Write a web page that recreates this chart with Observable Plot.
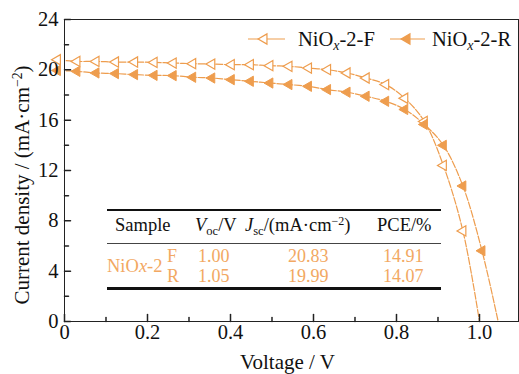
<!DOCTYPE html>
<html><head><meta charset="utf-8">
<script src="https://cdn.jsdelivr.net/npm/d3@7"></script>
<script src="https://cdn.jsdelivr.net/npm/@observablehq/plot@0.6"></script>
<style>
html,body{margin:0;padding:0;background:#fff;}
#wrap{position:relative;width:519px;height:374px;overflow:hidden;font-family:"Liberation Serif","Times New Roman",serif;color:#111;}
#wrap svg{position:absolute;left:0;top:0;}
.t{position:absolute;white-space:nowrap;line-height:0.85;transform:translateY(-50%);}
.o{color:#F2A862;}
.hl{position:absolute;background:#111;}
.sub{font-size:0.68em;vertical-align:-0.28em;line-height:0;}
.sup{font-size:0.65em;vertical-align:0.55em;line-height:0;}
i{font-style:italic;}
</style></head><body><div id="wrap"></div>
<script>
// ---- data ----
const voltage = [-0.017,0.030,0.076,0.123,0.169,0.216,0.262,0.309,0.355,0.402,0.448,0.495,0.541,0.588,0.634,0.681,0.727,0.774,0.820,0.867,0.913,0.960,1.006];
const jF = [20.80,20.67,20.67,20.62,20.62,20.59,20.54,20.49,20.46,20.41,20.41,20.33,20.28,20.14,20.01,19.75,19.35,18.83,17.74,15.90,12.40,7.20];
const jR = [19.95,19.88,19.75,19.70,19.62,19.56,19.54,19.41,19.35,19.22,19.09,18.95,18.83,18.69,18.43,18.22,17.90,17.50,16.85,15.66,14.00,10.77,5.62];
const vocEnd = [1.000, 1.045];
const seriesNames = ["F","R"];
const xTicks = [0,0.2,0.4,0.6,0.8,1.0];
const xMinor = [0.1,0.3,0.5,0.7,0.9];
const yTicks = [0,4,8,12,16,20,24];
const yMinor = [2,6,10,14,18,22];
const sampleName = "NiOx-2";
const scanDir = ["F","R"];
const vocCol = ["1.00","1.05"];
const jscCol = ["20.83","19.99"];
const pceCol = ["14.91","14.07"];

const orange = "#EE9D4E";
const axisColor = "#222";

const markF = jF.map((J,i)=>({V:voltage[i], J}));
const markR = jR.map((J,i)=>({V:voltage[i], J}));
const lineF = markF.concat([{V:vocEnd[0], J:0}]);
const lineR = markR.concat([{V:vocEnd[1], J:0}]);

const tickShape = {draw(ctx, l){ ctx.moveTo(0,0); ctx.lineTo(0,-l); }};

const chart = Plot.plot({
  width:519, height:374, marginTop:19, marginLeft:64, marginRight:1, marginBottom:53,
  style:{fontFamily:'"Liberation Serif","Times New Roman",serif', fontSize:"20.5px", color:"#111", background:"white"},
  x:{domain:[0,1.094]},
  y:{domain:[0,24]},
  marks:[
    Plot.line(lineF, {x:"V", y:"J", stroke:orange, strokeWidth:1.2, strokeDasharray:"7,1.8", curve:"catmull-rom", clip:true}),
    Plot.line(lineR, {x:"V", y:"J", stroke:orange, strokeWidth:1.2, strokeDasharray:"7,1.8", curve:"catmull-rom", clip:true}),
    Plot.dot(markF, {x:"V", y:"J", symbol:"triangle", r:3.8, rotate:-90, fill:"white", stroke:orange, strokeWidth:1.2}),
    Plot.dot(markR, {x:"V", y:"J", symbol:"triangle", r:3.8, rotate:-90, fill:orange, stroke:orange, strokeWidth:1}),
    Plot.frame({stroke:axisColor, strokeWidth:1}),
    Plot.axisX({ticks:xTicks, tickSize:0, tickPadding:3, tickFormat:d=>d===0?"0":d.toFixed(1), label:null}),
    Plot.axisY({ticks:yTicks, tickSize:0, tickPadding:6, label:null}),
    Plot.vector(xTicks, {x:d=>d, frameAnchor:"bottom", length:7, anchor:"start", shape:tickShape, stroke:axisColor}),
    Plot.vector(xMinor, {x:d=>d, frameAnchor:"bottom", length:4, anchor:"start", shape:tickShape, stroke:axisColor}),
    Plot.vector(yTicks, {y:d=>d, frameAnchor:"left", length:6, rotate:90, anchor:"start", shape:tickShape, stroke:axisColor}),
    Plot.vector(yMinor, {y:d=>d, frameAnchor:"left", length:4, rotate:90, anchor:"start", shape:tickShape, stroke:axisColor})
  ]
});
const wrap = document.getElementById("wrap");
wrap.appendChild(chart);

function txt(html, left, cy, size, cls){
  const d = document.createElement("div");
  d.className = "t" + (cls? " "+cls : "");
  d.style.left = left+"px"; d.style.top = cy+"px"; d.style.fontSize = size+"px";
  d.innerHTML = html; wrap.appendChild(d); return d;
}
function hline(x1, x2, y, h, color){
  const d = document.createElement("div");
  d.className = "hl";
  d.style.left = x1+"px"; d.style.width = (x2-x1)+"px"; d.style.top = (y - h/2)+"px"; d.style.height = h+"px";
  if (color) d.style.background = color;
  wrap.appendChild(d);
}
const niox = s => s.replace("Ox", "O<i class='sub'>x</i>");

// axis titles
txt("Voltage / V", 240, 363, 21);
const yt = txt("Current density / (mA·cm<span class='sup'>−2</span>)", 23, 185, 21);
yt.style.transform = "translate(-50%,-50%) rotate(-90deg)";

// legend
const leg = document.createElementNS("http://www.w3.org/2000/svg","svg");
leg.setAttribute("width","519"); leg.setAttribute("height","60");
leg.style.position="absolute"; leg.style.left="0"; leg.style.top="0";
const sw = [{x1:248,x2:285,mx:264,fill:"white"},{x1:390,x2:425,mx:407,fill:orange}];
sw.forEach(s=>{
  leg.innerHTML += `<line x1="${s.x1}" x2="${s.x2}" y1="39" y2="39" stroke="${orange}" stroke-width="1.2"/>` +
    `<path d="${d3.symbol(d3.symbolTriangle, 3.8*3.8*Math.PI)()}" transform="translate(${s.mx},39) rotate(-90)" fill="${s.fill}" stroke="${orange}" stroke-width="1.2"/>`;
});
wrap.appendChild(leg);
txt(niox("NiOx-2-") + seriesNames[0], 298, 40, 20.5);
txt(niox("NiOx-2-") + seriesNames[1], 432, 40, 20.5);

// table
hline(107, 441, 210, 2.2);
hline(107, 441, 243.5, 1.2, "#444");
hline(107, 441, 288.5, 2.2);
txt("Sample", 115, 226, 18.5);
txt("<i>V</i><span class='sub'>oc</span>/V", 195, 226, 18.5);
txt("<i>J</i><span class='sub'>sc</span>/(mA·cm<span class='sup'>−2</span>)", 245, 226, 18.5);
txt("PCE/%", 377, 226, 18.5);
txt(sampleName.replace("x","<i>x</i>"), 107, 266.5, 18.5, "o");
[256.5, 276.5].forEach((cy,i)=>{
  txt(scanDir[i], 167, cy, 18, "o");
  txt(vocCol[i], 198, cy, 18, "o");
  txt(jscCol[i], 288, cy, 18, "o");
  txt(pceCol[i], 383, cy, 18, "o");
});
</script></body></html>
